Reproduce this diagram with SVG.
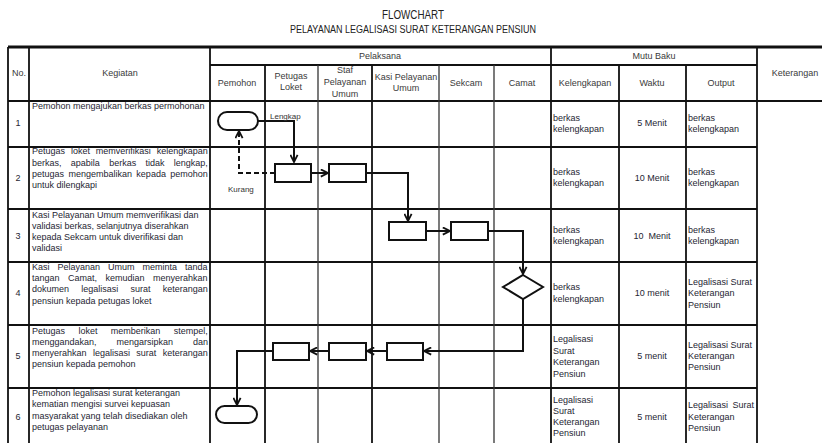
<svg xmlns="http://www.w3.org/2000/svg" width="822" height="443" viewBox="0 0 822 443">
<defs>
<style>
text{font-family:"Liberation Sans",Arial,sans-serif;font-size:9px;fill:#262633}
.h{fill:#3a3a3a;text-anchor:middle}
.c{text-anchor:middle}
.lbl{font-size:8px;fill:#333}
.t{stroke:#111;stroke-width:1.8;fill:none}
.tl{stroke:#333;stroke-width:1.3;fill:none}
.node{fill:#fff;stroke:#111;stroke-width:2}
.con{fill:none;stroke:#111;stroke-width:2}
.dash{stroke-dasharray:5,3}
</style>
<marker id="ah" viewBox="0 0 10 10" refX="9" refY="5" markerWidth="4.5" markerHeight="4.5" orient="auto" markerUnits="strokeWidth">
<path d="M1,1 L9,5 L1,9" fill="none" stroke="#111" stroke-width="2"/>
</marker>
</defs>
<rect width="822" height="443" fill="#fff"/>

<g id="title">
<text x="413" y="19" class="c" style="font-size:12.5px;fill:#222" textLength="62" lengthAdjust="spacingAndGlyphs">FLOWCHART</text>
<text x="413" y="33" class="c" style="font-size:10px;fill:#222" textLength="246" lengthAdjust="spacingAndGlyphs">PELAYANAN LEGALISASI SURAT KETERANGAN PENSIUN</text>
</g>

<g id="table">
<line x1="8" y1="47" x2="822" y2="47" stroke="#111" stroke-width="3"/>
<line x1="8" y1="101" x2="822" y2="101" class="t"/>
<line x1="210" y1="65" x2="757" y2="65" class="t"/>
<g class="t">
<line x1="8" y1="147" x2="757" y2="147"/>
<line x1="8" y1="209" x2="757" y2="209"/>
<line x1="8" y1="262" x2="757" y2="262"/>
<line x1="8" y1="325" x2="757" y2="325"/>
<line x1="8" y1="388" x2="757" y2="388"/>
<line x1="8" y1="47" x2="8" y2="443"/>
<line x1="29" y1="47" x2="29" y2="443"/>
<line x1="210" y1="47" x2="210" y2="443"/>
<line x1="265" y1="65" x2="265" y2="443"/>
<line x1="372" y1="65" x2="372" y2="443"/>
<line x1="551" y1="47" x2="551" y2="443"/>
<line x1="619" y1="65" x2="619" y2="443"/>
<line x1="686" y1="65" x2="686" y2="443"/>
<line x1="757" y1="47" x2="757" y2="443"/>
</g>
<g class="tl">
<line x1="318" y1="65" x2="318" y2="443"/>
<line x1="439" y1="65" x2="439" y2="443"/>
<line x1="494" y1="65" x2="494" y2="443"/>
</g>
</g>

<g id="header">
<text x="12" y="76" style="fill:#3a3a3a">No.</text>
<text x="120" y="76" class="h">Kegiatan</text>
<text x="380" y="59" class="h">Pelaksana</text>
<text x="654" y="59" class="h">Mutu Baku</text>
<text x="795" y="76" class="h">Keterangan</text>
<text x="237" y="86" class="h">Pemohon</text>
<text x="291" y="79" class="h">Petugas</text>
<text x="291" y="90" class="h">Loket</text>
<text x="345" y="73" class="h">Staf</text>
<text x="345" y="85" class="h">Pelayanan</text>
<text x="345" y="97" class="h">Umum</text>
<text x="406" y="80" class="h">Kasi Pelayanan</text>
<text x="406" y="91" class="h">Umum</text>
<text x="466" y="86" class="h">Sekcam</text>
<text x="522" y="86" class="h">Camat</text>
<text x="585" y="86" class="h">Kelengkapan</text>
<text x="652" y="86" class="h">Waktu</text>
<text x="721" y="86" class="h">Output</text>
</g>

<g id="numbers">
<text x="18" y="126" class="c">1</text>
<text x="18" y="181" class="c">2</text>
<text x="18" y="239" class="c">3</text>
<text x="18" y="296" class="c">4</text>
<text x="18" y="359" class="c">5</text>
<text x="18" y="420" class="c">6</text>
</g>

<g id="kegiatan">
<text x="32" y="109">Pemohon mengajukan berkas permohonan</text>
<text x="32" y="154" style="word-spacing:3.4px">Petugas loket memverifikasi kelengkapan</text>
<text x="32" y="166" style="word-spacing:6.8px">berkas, apabila berkas tidak lengkap,</text>
<text x="32" y="177" style="word-spacing:1.9px">petugas mengembalikan kepada pemohon</text>
<text x="32" y="188">untuk dilengkapi</text>
<text x="32" y="218">Kasi Pelayanan Umum memverifikasi dan</text>
<text x="32" y="229">validasi berkas, selanjutnya diserahkan</text>
<text x="32" y="240">kepada Sekcam untuk diverifikasi dan</text>
<text x="32" y="251">validasi</text>
<text x="32" y="270" style="word-spacing:5.5px">Kasi Pelayanan Umum meminta tanda</text>
<text x="32" y="281" style="word-spacing:6px">tangan Camat, kemudian menyerahkan</text>
<text x="32" y="292" style="word-spacing:9.7px">dokumen legalisasi surat keterangan</text>
<text x="32" y="304">pensiun kepada petugas loket</text>
<text x="32" y="334" style="word-spacing:10.9px">Petugas loket memberikan stempel,</text>
<text x="32" y="345" style="word-spacing:17.4px">menggandakan, mengarsipkan dan</text>
<text x="32" y="356" style="word-spacing:3.9px">menyerahkan legalisasi surat keterangan</text>
<text x="32" y="367">pensiun kepada pemohon</text>
<text x="32" y="396">Pemohon legalisasi surat keterangan</text>
<text x="32" y="407">kematian mengisi survei kepuasan</text>
<text x="32" y="419">masyarakat yang telah disediakan oleh</text>
<text x="32" y="430">petugas pelayanan</text>
</g>

<g id="mutu">
<text x="553" y="121">berkas</text>
<text x="553" y="132">kelengkapan</text>
<text x="652" y="126" class="c">5 Menit</text>
<text x="688" y="121">berkas</text>
<text x="688" y="132">kelengkapan</text>

<text x="553" y="175">berkas</text>
<text x="553" y="186">kelengkapan</text>
<text x="652" y="181" class="c">10 Menit</text>
<text x="688" y="175">berkas</text>
<text x="688" y="186">kelengkapan</text>

<text x="553" y="233">berkas</text>
<text x="553" y="244">kelengkapan</text>
<text x="652" y="239" class="c" style="word-spacing:2.5px">10 Menit</text>
<text x="688" y="233">berkas</text>
<text x="688" y="244">kelengkapan</text>

<text x="553" y="290">berkas</text>
<text x="553" y="302">kelengkapan</text>
<text x="652" y="296" class="c">10 menit</text>
<text x="688" y="285">Legalisasi Surat</text>
<text x="688" y="296">Keterangan</text>
<text x="688" y="308">Pensiun</text>

<text x="553" y="342">Legalisasi</text>
<text x="553" y="353.5">Surat</text>
<text x="553" y="365">Keterangan</text>
<text x="553" y="376.5">Pensiun</text>
<text x="652" y="359" class="c">5 menit</text>
<text x="688" y="348">Legalisasi Surat</text>
<text x="688" y="359">Keterangan</text>
<text x="688" y="370">Pensiun</text>

<text x="553" y="403">Legalisasi</text>
<text x="553" y="414">Surat</text>
<text x="553" y="425">Keterangan</text>
<text x="553" y="436">Pensiun</text>
<text x="652" y="420" class="c">5 menit</text>
<text x="688" y="408" style="word-spacing:2px">Legalisasi Surat</text>
<text x="688" y="420">Keterangan</text>
<text x="688" y="431">Pensiun</text>
</g>

<g id="connectors">
<polyline class="con" points="258,121 294,121 294,162" marker-end="url(#ah)"/>
<polyline class="con dash" points="275,173 239,173 239,131" marker-end="url(#ah)"/>
<line class="con" x1="311" y1="173" x2="328" y2="173" marker-end="url(#ah)"/>
<polyline class="con" points="366,173 408,173 408,221" marker-end="url(#ah)"/>
<line class="con" x1="426" y1="231" x2="450" y2="231" marker-end="url(#ah)"/>
<polyline class="con" points="488,231 523,231 523,274" marker-end="url(#ah)"/>
<polyline class="con" points="523,299 523,351 424,351" marker-end="url(#ah)"/>
<line class="con" x1="387" y1="351" x2="367" y2="351" marker-end="url(#ah)"/>
<line class="con" x1="329" y1="351" x2="310" y2="351" marker-end="url(#ah)"/>
<polyline class="con" points="273,351 237,351 237,405" marker-end="url(#ah)"/>
<text x="270" y="119" class="lbl">Lengkap</text>
<text x="228" y="192" class="lbl">Kurang</text>
</g>

<g id="start"><rect class="node" x="218" y="112" width="40" height="18" rx="9"/></g>
<g id="p1"><rect class="node" x="275" y="164" width="36" height="18"/></g>
<g id="p2"><rect class="node" x="329" y="164" width="37" height="18"/></g>
<g id="p3"><rect class="node" x="389" y="222" width="37" height="18"/></g>
<g id="p4"><rect class="node" x="451" y="222" width="37" height="18"/></g>
<g id="decision"><polygon class="node" points="523,275 543,287 523,299 503,287"/></g>
<g id="p5"><rect class="node" x="387" y="343" width="36" height="17"/></g>
<g id="p6"><rect class="node" x="329" y="343" width="37" height="17"/></g>
<g id="p7"><rect class="node" x="273" y="343" width="36" height="17"/></g>
<g id="end"><rect class="node" x="216" y="406" width="41" height="17" rx="8.5"/></g>
</svg>
